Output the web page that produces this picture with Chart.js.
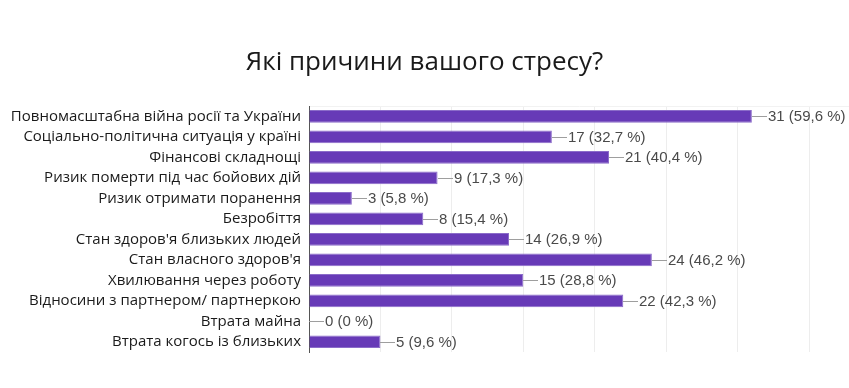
<!DOCTYPE html>
<html>
<head>
<meta charset="utf-8">
<script src="https://cdn.jsdelivr.net/npm/chart.js@4/dist/chart.umd.min.js"></script>
<style>
html,body{margin:0;padding:0;background:#fff;overflow:hidden;}
#wrap{width:849px;height:388px;position:relative;}
</style>
</head>
<body>
<div id="wrap"><canvas id="c" width="849" height="388"></canvas></div>
<script>
const title = 'Які причини вашого стресу?';
const categories = [
  'Повномасштабна війна росії та України',
  'Соціально-політична ситуація у країні',
  'Фінансові складнощі',
  'Ризик померти під час бойових дій',
  'Ризик отримати поранення',
  'Безробіття',
  "Стан здоров'я близьких людей",
  "Стан власного здоров'я",
  'Хвилювання через роботу',
  'Відносини з партнером/ партнеркою',
  'Втрата майна',
  'Втрата когось із близьких'
];
const counts = [31, 17, 21, 9, 3, 8, 14, 24, 15, 22, 0, 5];
const percents = [59.6, 32.7, 40.4, 17.3, 5.8, 15.4, 26.9, 46.2, 28.8, 42.3, 0, 9.6];

const valueLabels = {
  id: 'valueLabels',
  afterDatasetsDraw(chart) {
    const ctx = chart.ctx;
    const meta = chart.getDatasetMeta(0);
    ctx.save();
    ctx.font = '15px "Liberation Sans", Arial, sans-serif';
    ctx.textBaseline = 'middle';
    meta.data.forEach((bar, i) => {
      const x = Math.round(bar.x);
      const y = Math.round(bar.y) + 0.5;
      ctx.strokeStyle = '#9e9e9e';
      ctx.lineWidth = 1;
      ctx.beginPath();
      ctx.moveTo(x, y);
      ctx.lineTo(x + 15, y);
      ctx.stroke();
      const p = String(percents[i]).replace('.', ',');
      ctx.fillStyle = '#4a4a4a';
      ctx.fillText(counts[i] + ' (' + p + ' %)', x + 16, y + 0.5);
    });
    ctx.restore();
  }
};

new Chart(document.getElementById('c'), {
  type: 'bar',
  data: {
    labels: categories,
    datasets: [{
      data: counts,
      backgroundColor: '#673ab7',
      borderColor: '#8b6cc9',
      borderWidth: 1,
      barPercentage: 0.62,
      categoryPercentage: 1.0
    }]
  },
  options: {
    indexAxis: 'y',
    responsive: false,
    animation: false,
    layout: { padding: { left: 0, right: 0, top: 0, bottom: 36 } },
    plugins: {
      legend: { display: false },
      tooltip: { enabled: false },
      title: {
        display: true,
        text: title,
        color: '#1a1a1a',
        font: { family: '"Open Sans", sans-serif', size: 26, weight: 'normal', lineHeight: 1.2 },
        padding: { top: 47, bottom: 28 }
      }
    },
    scales: {
      x: {
        position: 'top',
        min: 0,
        max: 37.8,
        ticks: { display: false, stepSize: 5, includeBounds: false },
        grid: { color: '#ededed', drawTicks: false },
        border: { display: true, color: '#f2f2f2' }
      },
      y: {
        ticks: {
          color: '#1a1a1a',
          padding: 8,
          autoSkip: false,
          font: { family: '"Open Sans", sans-serif', size: 15 }
        },
        grid: { display: false, drawTicks: false },
        border: { display: true, color: '#555', width: 1 },
        afterFit(scale) { scale.width = 309; }
      }
    }
  },
  plugins: [valueLabels]
});
</script>
</body>
</html>
